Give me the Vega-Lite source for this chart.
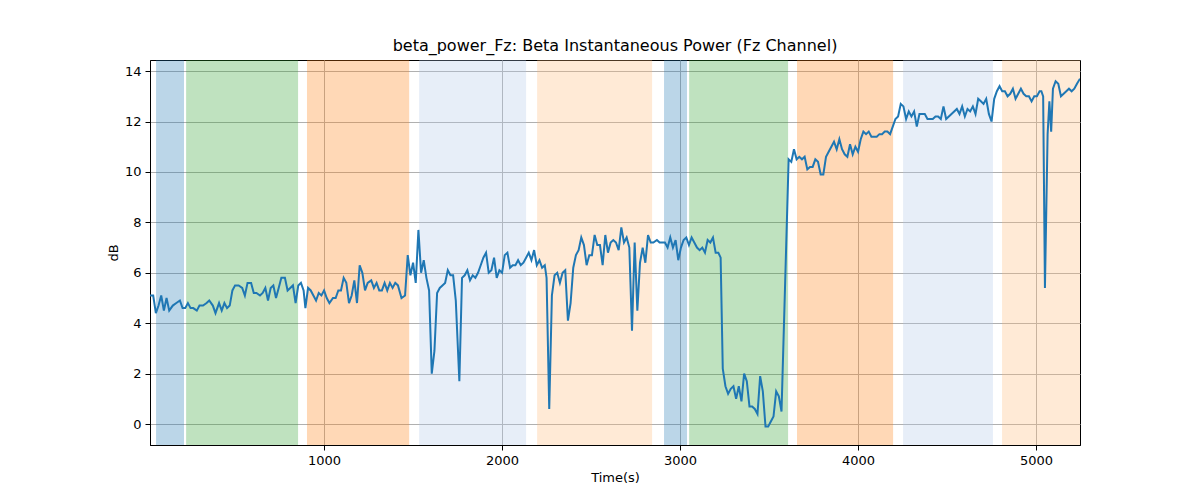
{
  "$schema": "https://vega.github.io/schema/vega-lite/v6.json",
  "width": 930, "height": 385,
  "autosize": "none",
  "padding": {"left": 150, "top": 60, "right": 120, "bottom": 55},
  "background": "white",
  "config": {"view": {"stroke": "black"}, "font": "DejaVu Sans",
    "axis": {"grid": true, "gridColor": "#b0b0b0", "gridWidth": 1, "domainColor": "black", "tickColor": "black", "zindex": 1,
      "labelFont": "DejaVu Sans", "labelFontSize": 13, "labelColor": "black", "titleFont": "DejaVu Sans",
      "titleFontSize": 13, "titleFontWeight": "normal", "titleColor": "black", "tickSize": 5, "labelPadding": 4}},
  "title": {"text": "beta_power_Fz: Beta Instantaneous Power (Fz Channel)", "font": "DejaVu Sans", "fontSize": 16, "fontWeight": "normal", "offset": 6},
  "datasets": {
    "bands": [
      {"start": 56, "end": 213, "c": "#1f77b4"},
      {"start": 225, "end": 854, "c": "#2ca02c"},
      {"start": 904, "end": 1478, "c": "#ff7f0e"},
      {"start": 1534, "end": 2135, "c": "#aec7e8"},
      {"start": 2197, "end": 2843, "c": "#ffbb78"},
      {"start": 2910, "end": 3039, "c": "#1f77b4"},
      {"start": 3051, "end": 3607, "c": "#2ca02c"},
      {"start": 3657, "end": 4197, "c": "#ff7f0e"},
      {"start": 4253, "end": 4758, "c": "#aec7e8"},
      {"start": 4809, "end": 5247, "c": "#ffbb78"}
    ],
    "series": [
      {"t":22,"v":5.1},{"t":40,"v":5.1},{"t":55,"v":4.4},{"t":70,"v":4.7},{"t":85,"v":5.1},{"t":100,"v":4.5},{"t":115,"v":5.0},{"t":130,"v":4.5},{"t":150,"v":4.7},{"t":170,"v":4.8},{"t":190,"v":4.9},{"t":205,"v":4.6},{"t":220,"v":4.6},{"t":235,"v":4.8},{"t":250,"v":4.6},{"t":265,"v":4.6},{"t":285,"v":4.5},{"t":300,"v":4.7},{"t":320,"v":4.7},{"t":340,"v":4.8},{"t":355,"v":4.9},{"t":375,"v":4.7},{"t":390,"v":4.4},{"t":410,"v":4.8},{"t":425,"v":4.5},{"t":440,"v":4.8},{"t":455,"v":4.6},{"t":470,"v":4.7},{"t":485,"v":5.3},{"t":500,"v":5.5},{"t":520,"v":5.5},{"t":540,"v":5.4},{"t":555,"v":5.1},{"t":570,"v":5.6},{"t":590,"v":5.6},{"t":605,"v":5.2},{"t":620,"v":5.2},{"t":640,"v":5.1},{"t":655,"v":5.2},{"t":670,"v":5.4},{"t":685,"v":4.9},{"t":700,"v":5.4},{"t":715,"v":5.5},{"t":730,"v":5.0},{"t":745,"v":5.4},{"t":760,"v":5.8},{"t":780,"v":5.8},{"t":795,"v":5.3},{"t":810,"v":5.4},{"t":825,"v":5.5},{"t":840,"v":4.8},{"t":855,"v":5.5},{"t":870,"v":5.6},{"t":885,"v":5.3},{"t":895,"v":4.6},{"t":910,"v":5.4},{"t":925,"v":5.3},{"t":940,"v":5.1},{"t":955,"v":4.9},{"t":970,"v":5.2},{"t":985,"v":5.1},{"t":1000,"v":5.3},{"t":1015,"v":5.0},{"t":1030,"v":4.8},{"t":1050,"v":5.0},{"t":1065,"v":5.0},{"t":1080,"v":5.3},{"t":1095,"v":5.3},{"t":1110,"v":5.8},{"t":1125,"v":5.6},{"t":1140,"v":4.8},{"t":1155,"v":5.1},{"t":1170,"v":5.7},{"t":1185,"v":4.8},{"t":1200,"v":6.3},{"t":1215,"v":6.0},{"t":1230,"v":5.3},{"t":1245,"v":5.6},{"t":1265,"v":5.7},{"t":1280,"v":5.4},{"t":1295,"v":5.6},{"t":1310,"v":5.3},{"t":1325,"v":5.3},{"t":1340,"v":5.6},{"t":1355,"v":5.3},{"t":1370,"v":5.6},{"t":1385,"v":5.4},{"t":1400,"v":5.6},{"t":1415,"v":5.5},{"t":1435,"v":5.0},{"t":1455,"v":5.1},{"t":1470,"v":6.7},{"t":1485,"v":5.9},{"t":1500,"v":6.4},{"t":1515,"v":5.6},{"t":1530,"v":7.7},{"t":1545,"v":6.0},{"t":1560,"v":6.5},{"t":1575,"v":5.8},{"t":1590,"v":5.3},{"t":1605,"v":2.0},{"t":1620,"v":2.9},{"t":1635,"v":5.2},{"t":1650,"v":5.4},{"t":1665,"v":5.5},{"t":1680,"v":5.6},{"t":1695,"v":6.1},{"t":1710,"v":5.9},{"t":1725,"v":5.9},{"t":1740,"v":4.9},{"t":1760,"v":1.7},{"t":1775,"v":5.8},{"t":1790,"v":5.9},{"t":1805,"v":6.1},{"t":1820,"v":5.7},{"t":1835,"v":5.9},{"t":1850,"v":5.8},{"t":1865,"v":6.0},{"t":1880,"v":6.3},{"t":1895,"v":6.6},{"t":1910,"v":6.8},{"t":1925,"v":6.0},{"t":1940,"v":6.1},{"t":1955,"v":6.6},{"t":1970,"v":5.8},{"t":1985,"v":6.1},{"t":2000,"v":6.0},{"t":2015,"v":6.7},{"t":2030,"v":6.8},{"t":2045,"v":6.2},{"t":2060,"v":6.3},{"t":2075,"v":6.3},{"t":2090,"v":6.5},{"t":2105,"v":6.3},{"t":2120,"v":6.4},{"t":2135,"v":6.6},{"t":2150,"v":6.8},{"t":2165,"v":6.5},{"t":2180,"v":6.9},{"t":2195,"v":6.3},{"t":2210,"v":6.5},{"t":2225,"v":6.2},{"t":2240,"v":6.3},{"t":2250,"v":5.8},{"t":2265,"v":0.6},{"t":2280,"v":5.1},{"t":2295,"v":5.9},{"t":2310,"v":6.0},{"t":2325,"v":5.6},{"t":2340,"v":6.0},{"t":2355,"v":6.1},{"t":2370,"v":4.1},{"t":2385,"v":4.8},{"t":2400,"v":6.2},{"t":2415,"v":6.7},{"t":2430,"v":6.9},{"t":2445,"v":7.4},{"t":2460,"v":7.1},{"t":2475,"v":6.3},{"t":2490,"v":6.7},{"t":2505,"v":6.7},{"t":2520,"v":7.5},{"t":2535,"v":7.1},{"t":2550,"v":7.1},{"t":2565,"v":6.3},{"t":2580,"v":7.5},{"t":2595,"v":6.8},{"t":2610,"v":7.2},{"t":2625,"v":7.3},{"t":2640,"v":7.2},{"t":2655,"v":6.9},{"t":2670,"v":7.8},{"t":2685,"v":7.2},{"t":2700,"v":7.4},{"t":2715,"v":7.0},{"t":2730,"v":3.7},{"t":2745,"v":7.2},{"t":2760,"v":4.5},{"t":2775,"v":6.4},{"t":2790,"v":7.0},{"t":2805,"v":6.4},{"t":2820,"v":7.5},{"t":2835,"v":7.2},{"t":2850,"v":7.2},{"t":2870,"v":7.3},{"t":2885,"v":7.2},{"t":2900,"v":7.2},{"t":2915,"v":7.2},{"t":2930,"v":7.0},{"t":2945,"v":7.4},{"t":2960,"v":7.0},{"t":2975,"v":7.3},{"t":2990,"v":6.5},{"t":3005,"v":7.0},{"t":3020,"v":7.3},{"t":3035,"v":7.4},{"t":3050,"v":7.1},{"t":3065,"v":7.4},{"t":3080,"v":7.2},{"t":3095,"v":7.0},{"t":3110,"v":6.9},{"t":3125,"v":7.0},{"t":3140,"v":6.8},{"t":3155,"v":7.3},{"t":3170,"v":7.2},{"t":3185,"v":7.4},{"t":3200,"v":6.8},{"t":3215,"v":6.8},{"t":3228,"v":6.6},{"t":3240,"v":2.2},{"t":3255,"v":1.5},{"t":3270,"v":1.2},{"t":3285,"v":1.4},{"t":3300,"v":1.5},{"t":3315,"v":1.0},{"t":3330,"v":1.5},{"t":3345,"v":0.9},{"t":3360,"v":2.0},{"t":3375,"v":1.7},{"t":3390,"v":0.7},{"t":3405,"v":0.7},{"t":3420,"v":0.6},{"t":3435,"v":0.4},{"t":3450,"v":1.9},{"t":3465,"v":1.3},{"t":3480,"v":-0.1},{"t":3495,"v":-0.1},{"t":3510,"v":0.1},{"t":3525,"v":0.3},{"t":3540,"v":1.3},{"t":3555,"v":1.1},{"t":3570,"v":0.5},{"t":3610,"v":10.5},{"t":3625,"v":10.4},{"t":3640,"v":10.9},{"t":3655,"v":10.5},{"t":3670,"v":10.6},{"t":3685,"v":10.5},{"t":3700,"v":10.6},{"t":3715,"v":10.1},{"t":3730,"v":10.2},{"t":3745,"v":10.2},{"t":3760,"v":10.5},{"t":3775,"v":10.4},{"t":3790,"v":9.9},{"t":3805,"v":9.9},{"t":3820,"v":10.6},{"t":3835,"v":10.8},{"t":3850,"v":11.0},{"t":3865,"v":11.2},{"t":3880,"v":10.9},{"t":3895,"v":11.3},{"t":3910,"v":10.9},{"t":3925,"v":10.7},{"t":3940,"v":10.6},{"t":3955,"v":11.1},{"t":3970,"v":10.7},{"t":3985,"v":11.0},{"t":4000,"v":10.8},{"t":4015,"v":11.3},{"t":4030,"v":11.6},{"t":4045,"v":11.5},{"t":4060,"v":11.6},{"t":4075,"v":11.4},{"t":4090,"v":11.4},{"t":4105,"v":11.4},{"t":4120,"v":11.5},{"t":4135,"v":11.5},{"t":4150,"v":11.6},{"t":4165,"v":11.6},{"t":4180,"v":11.5},{"t":4195,"v":11.8},{"t":4210,"v":12.1},{"t":4225,"v":12.2},{"t":4240,"v":12.7},{"t":4255,"v":12.6},{"t":4270,"v":12.1},{"t":4285,"v":12.4},{"t":4300,"v":12.2},{"t":4315,"v":12.4},{"t":4330,"v":11.8},{"t":4345,"v":12.3},{"t":4360,"v":12.3},{"t":4375,"v":12.3},{"t":4390,"v":12.1},{"t":4405,"v":12.1},{"t":4420,"v":12.1},{"t":4435,"v":12.2},{"t":4450,"v":12.2},{"t":4465,"v":12.1},{"t":4480,"v":12.6},{"t":4495,"v":12.1},{"t":4510,"v":12.2},{"t":4525,"v":12.3},{"t":4540,"v":12.4},{"t":4555,"v":12.5},{"t":4570,"v":12.3},{"t":4585,"v":12.6},{"t":4600,"v":12.2},{"t":4615,"v":12.5},{"t":4630,"v":12.4},{"t":4645,"v":12.6},{"t":4660,"v":12.3},{"t":4675,"v":12.9},{"t":4690,"v":12.8},{"t":4705,"v":12.7},{"t":4720,"v":12.9},{"t":4735,"v":12.3},{"t":4750,"v":12.0},{"t":4765,"v":12.9},{"t":4780,"v":13.2},{"t":4795,"v":13.4},{"t":4810,"v":13.2},{"t":4825,"v":13.2},{"t":4840,"v":13.0},{"t":4855,"v":13.1},{"t":4870,"v":13.3},{"t":4885,"v":12.9},{"t":4900,"v":13.1},{"t":4915,"v":13.3},{"t":4930,"v":13.1},{"t":4945,"v":13.0},{"t":4960,"v":13.0},{"t":4975,"v":12.8},{"t":4990,"v":13.0},{"t":5005,"v":13.0},{"t":5020,"v":13.2},{"t":5030,"v":13.2},{"t":5040,"v":13.0},{"t":5050,"v":5.4},{"t":5065,"v":11.5},{"t":5075,"v":12.8},{"t":5085,"v":11.6},{"t":5095,"v":13.3},{"t":5110,"v":13.6},{"t":5125,"v":13.5},{"t":5140,"v":13.0},{"t":5155,"v":13.1},{"t":5170,"v":13.2},{"t":5185,"v":13.3},{"t":5200,"v":13.2},{"t":5215,"v":13.3},{"t":5230,"v":13.5},{"t":5247,"v":13.7}
    ]
  },
  "layer": [
    {
      "data": {"name": "bands"},
      "mark": {"type": "rect", "opacity": 0.3},
      "encoding": {
        "x": {"field": "start", "type": "quantitative", "scale": {"domain": [22, 5247], "nice": false, "zero": false},
          "axis": {"values": [1000, 2000, 3000, 4000, 5000], "format": "d", "title": "Time(s)"}},
        "x2": {"field": "end"},
        "color": {"field": "c", "type": "nominal", "scale": null, "legend": null}
      }
    },
    {
      "data": {"name": "series"},
      "mark": {"type": "line", "color": "#1f77b4", "strokeWidth": 2, "clip": true},
      "encoding": {
        "x": {"field": "t", "type": "quantitative"},
        "y": {"field": "v", "type": "quantitative", "scale": {"domain": [-0.83, 14.44], "nice": false, "zero": false},
          "axis": {"values": [0, 2, 4, 6, 8, 10, 12, 14], "title": "dB"}}
      }
    }
  ]
}
